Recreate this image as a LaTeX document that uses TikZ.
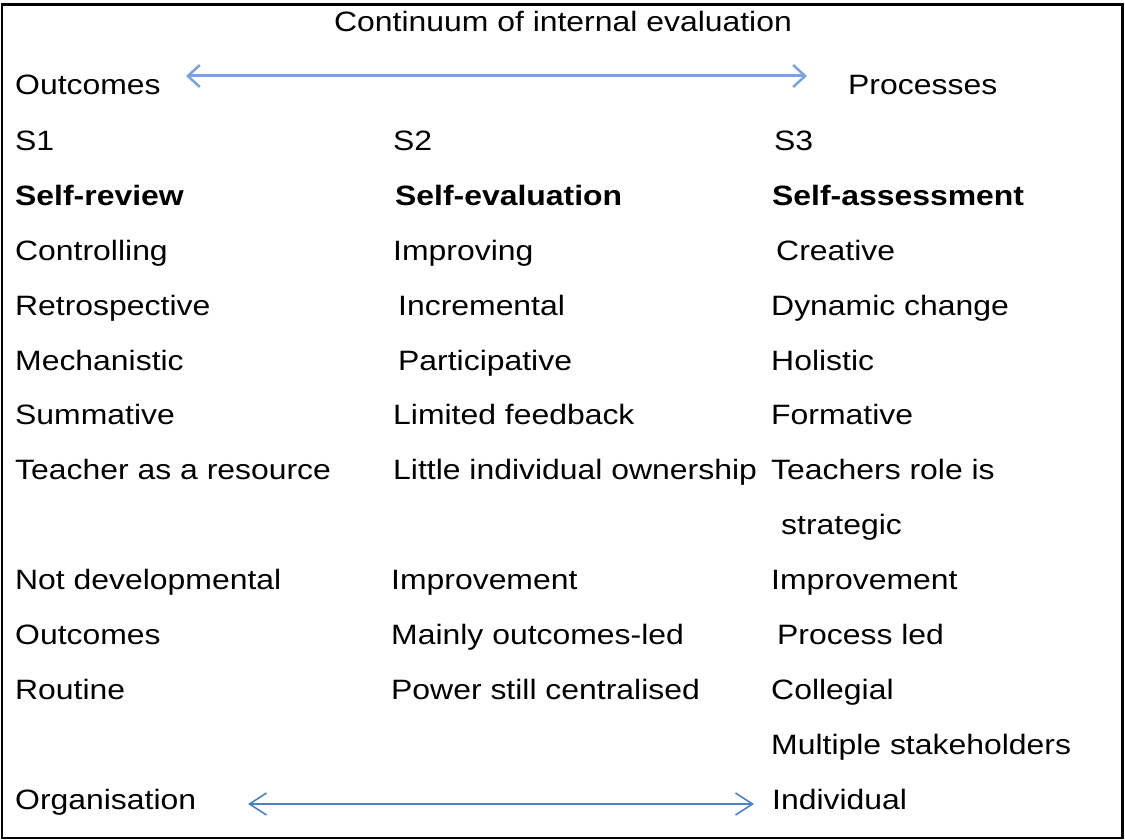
\documentclass[tikz,border=0pt]{standalone}
\usepackage{fontspec}
\setmainfont{Liberation Sans}[FakeStretch=1.14]
\usetikzlibrary{arrows.meta}
\definecolor{arrA}{HTML}{7BA3D6}
\definecolor{arrB}{HTML}{4F81BD}
\tikzset{
  txt/.style={anchor=base west, inner sep=0pt, font=\fontsize{28}{32}\selectfont},
  btxt/.style={txt, font=\fontsize{28}{32}\selectfont\bfseries},
  contarrow/.style={arrA, line width=3pt, {Straight Barb[length=12pt,width=22pt,line width=2.5pt]}-{Straight Barb[length=12pt,width=22pt,line width=2.5pt]}},
  axisarrow/.style={arrB, line width=1.6pt, {Straight Barb[length=17pt,width=22pt]}-{Straight Barb[length=17pt,width=22pt]}},
  frame/.style={draw=black, line width=2.5pt}
}
\begin{document}
\begin{tikzpicture}[x=1pt,y=-1pt]
\useasboundingbox (0,0) rectangle (1125,840);
\draw[frame] (2,4.5) rectangle (1122.5,838);
\node[txt, anchor=base] (title) at (563,32) {Continuum of internal evaluation};
% row 0
\node[txt] (out) at (15,95) {Outcomes};
\node[txt] (proc) at (848,95) {Processes};
\coordinate (tl) at (186,76);
\coordinate (tr) at (807,76);
\draw[contarrow] (tl) -- (tr);
% row 1
\node[txt] (s1) at (15,150) {S1};
\node[txt] (s2) at (393,150) {S2};
\node[txt] (s3) at (774,150) {S3};
% row 2
\node[btxt] (h1) at (15,205) {Self-review};
\node[btxt] (h2) at (395,205) {Self-evaluation};
\node[btxt] (h3) at (772,205) {Self-assessment};
% row 3
\node[txt] (a1) at (15,260) {Controlling};
\node[txt] (a2) at (393,260) {Improving};
\node[txt] (a3) at (776,260) {Creative};
% row 4
\node[txt] (b1) at (15,315) {Retrospective};
\node[txt] (b2) at (398,315) {Incremental};
\node[txt] (b3) at (771,315) {Dynamic change};
% row 5
\node[txt] (c1) at (15,370) {Mechanistic};
\node[txt] (c2) at (398,370) {Participative};
\node[txt] (c3) at (771,370) {Holistic};
% row 6
\node[txt] (d1) at (15,424.5) {Summative};
\node[txt] (d2) at (393,424.5) {Limited feedback};
\node[txt] (d3) at (771,424.5) {Formative};
% row 7
\node[txt] (e1) at (15,479.5) {Teacher as a resource};
\node[txt] (e2) at (393,479.5) {Little individual ownership};
\node[txt] (e3) at (771,479.5) {Teachers role is};
% row 8
\node[txt] (e3b) at (781,534) {strategic};
% row 9
\node[txt] (f1) at (15,589) {Not developmental};
\node[txt] (f2) at (391,589) {Improvement};
\node[txt] (f3) at (771,589) {Improvement};
% row 10
\node[txt] (g1) at (15,644) {Outcomes};
\node[txt] (g2) at (391,644) {Mainly outcomes-led};
\node[txt] (g3) at (777,644) {Process led};
% row 11
\node[txt] (h1r) at (15,699) {Routine};
\node[txt] (h2r) at (391,699) {Power still centralised};
\node[txt] (h3r) at (771,699) {Collegial};
% row 12
\node[txt] (i3) at (771,754) {Multiple stakeholders};
% row 13
\node[txt] (org) at (15,809) {Organisation};
\node[txt] (ind) at (772,809) {Individual};
\coordinate (bl) at (248,804);
\coordinate (br) at (754,804);
\draw[axisarrow] (bl) -- (br);
\end{tikzpicture}
\end{document}
